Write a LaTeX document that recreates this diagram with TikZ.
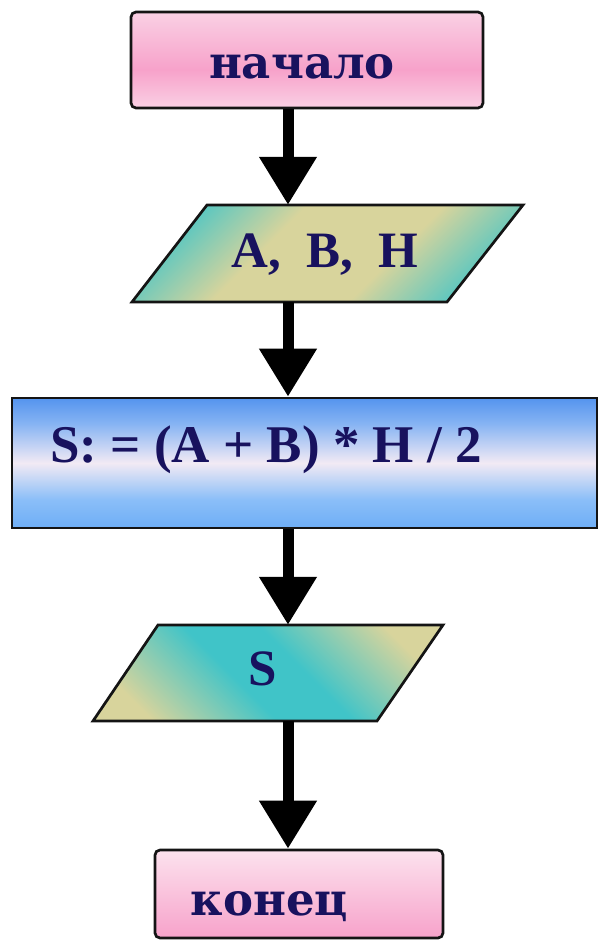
\documentclass[tikz,border=0pt]{standalone}
\usepackage{fontspec}
\setmainfont{Liberation Serif}
\newfontfamily\slabfont{DejaVu Serif}
\usetikzlibrary{arrows.meta}
\definecolor{navy}{HTML}{18125E}
\definecolor{edge}{HTML}{141414}
\definecolor{pinkL}{HTML}{FAD0E4}
\definecolor{pinkM}{HTML}{F7A2CA}
\definecolor{pinkW}{HTML}{FCE2EE}
\definecolor{blueT}{HTML}{5494EE}
\definecolor{blueB}{HTML}{6EAEF6}
\definecolor{blueW}{HTML}{F2EAF4}
\definecolor{khaki}{HTML}{D8D49C}
\definecolor{tealc}{HTML}{40C4C8}
\pgfdeclareverticalshading{pinkstart}{100bp}{color(0bp)=(pinkL); color(25bp)=(pinkL); color(45bp)=(pinkM); color(75bp)=(pinkL); color(100bp)=(pinkL)}
\pgfdeclareverticalshading{pinkend}{100bp}{color(0bp)=(pinkM); color(25bp)=(pinkM); color(75bp)=(pinkW); color(100bp)=(pinkW)}
\pgfdeclareverticalshading{blueproc}{100bp}{color(0bp)=(blueB); color(25bp)=(blueB); color(36bp)=(blueB!80!white); color(50bp)=(blueW); color(65bp)=(blueT!70!white); color(75bp)=(blueT); color(100bp)=(blueT)}
\pgfdeclarehorizontalshading{ioone}{100bp}{color(0bp)=(tealc); color(22bp)=(tealc); color(40bp)=(khaki); color(60bp)=(khaki); color(78bp)=(tealc); color(100bp)=(tealc)}
\pgfdeclarehorizontalshading{iotwo}{100bp}{color(0bp)=(khaki); color(24bp)=(khaki); color(44bp)=(tealc); color(56bp)=(tealc); color(76bp)=(khaki); color(100bp)=(khaki)}
\tikzset{
  border/.style={draw=edge, line width=2.7pt},
  termbox/.style={border, rounded corners=5pt, inner sep=0pt},
  procbox/.style={border, inner sep=0pt},
  iohold/.style={inner sep=0pt, minimum width=10pt},
  lbl/.style={text=navy, inner sep=0pt, anchor=base},
  arr/.style={line width=11pt, -{Triangle[width=55pt,length=48pt]}}
}
\begin{document}
\begin{tikzpicture}[x=1pt,y=-1pt]
\useasboundingbox (0,0) rectangle (598,945);
% start
\node[termbox, shading=pinkstart, minimum width=352pt, minimum height=96pt] (start) at (307,60) {};
\node[lbl, font=\slabfont\bfseries\fontsize{45}{45}\selectfont] (startlbl) at (302,78) {начало};
% input
\path[shading=ioone, shading angle=-45, border, line join=miter] (207,205) -- (523,205) -- (447,302) -- (132,302) -- cycle;
\node[iohold, minimum height=97pt] (inp) at (327,253.5) {};
\node[lbl, font=\bfseries\fontsize{51}{51}\selectfont] (inplbl) at (325,267) {A,\hspace{0.5em}B,\hspace{0.5em}H};
% process
\node[procbox, shading=blueproc, minimum width=585pt, minimum height=130pt] (proc) at (304.5,463) {};
\node[lbl, font=\bfseries\fontsize{53}{53}\selectfont] (proclbl) at (266,462) {S: = (A + B) * H / 2};
% output
\path[shading=iotwo, shading angle=45, border, line join=miter] (158,625) -- (443,625) -- (377,721) -- (93,721) -- cycle;
\node[iohold, minimum height=96pt] (outp) at (268,673) {};
\node[lbl, font=\bfseries\fontsize{51}{51}\selectfont] (outlbl) at (263,685) {S};
% end
\node[termbox, shading=pinkend, minimum width=288pt, minimum height=88pt] (stop) at (299,894) {};
\node[lbl, font=\slabfont\bfseries\fontsize{45}{45}\selectfont] (stoplbl) at (269.5,915) {конец};
% connectors
\coordinate (ax) at (288,0);
\draw[arr] (start.south -| ax) -- (inp.north -| ax);
\draw[arr] (inp.south -| ax) -- (proc.north -| ax);
\draw[arr] (proc.south -| ax) -- (outp.north -| ax);
\draw[arr] (outp.south -| ax) -- (stop.north -| ax);
\end{tikzpicture}
\end{document}
